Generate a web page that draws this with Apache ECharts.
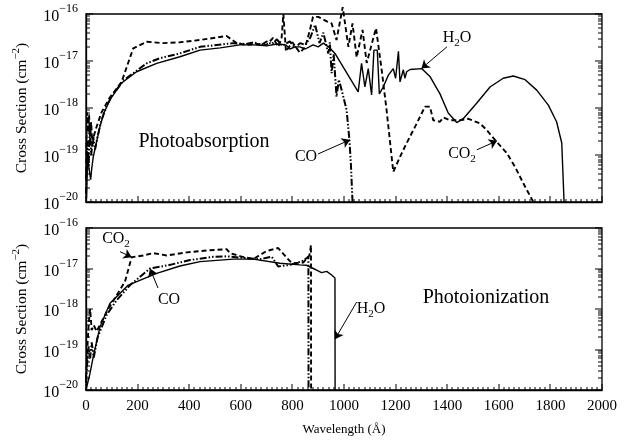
<!DOCTYPE html>
<html><head><meta charset="utf-8">
<script src="https://cdn.jsdelivr.net/npm/echarts@6/dist/echarts.min.js"></script>
<style>html,body{margin:0;padding:0;background:#fff}#c{width:632px;height:442px}</style>
</head><body><div id="c"></div><script>
// ---------- DATA (wavelength in Å, cross section in cm^2) ----------
const absH2O = [[2,1.2e-20],[6,9e-20],[12,5e-20],[18,3.0e-20],[22,5e-20],[28,9e-20],[40,1.8e-19],[54,4.0e-19],[70,8e-19],[93,1.5e-18],[138,3.4e-18],[196,5.9e-18],[274,8.9e-18],[364,1.23e-17],[442,1.7e-17],[520,1.9e-17],[597,2.2e-17],[650,2.2e-17],[700,2.1e-17],[740,2.3e-17],[775,2.2e-17],[791,1.8e-17],[810,2.0e-17],[829,2.0e-17],[850,1.8e-17],[880,2.2e-17],[900,2.0e-17],[920,2.4e-17],[945,1.9e-17],[965,1.45e-17],[1055,2.2e-18],[1068,8.9e-18],[1081,2.8e-18],[1094,6.9e-18],[1107,1.9e-18],[1116,1.7e-17],[1129,1.7e-17],[1137,2.0e-18],[1152,2.8e-18],[1172,5.0e-18],[1191,6.9e-18],[1200,4.3e-18],[1211,1.6e-17],[1217,3.6e-18],[1230,6.5e-18],[1236,4.3e-18],[1243,5.9e-18],[1256,6.6e-18],[1301,6.9e-18],[1333,4.7e-18],[1372,2.0e-18],[1404,7.8e-19],[1437,4.9e-19],[1463,6.0e-19],[1514,1.26e-18],[1566,2.8e-18],[1617,4.3e-18],[1656,4.8e-18],[1702,4.0e-18],[1747,2.4e-18],[1792,1.15e-18],[1824,5.1e-19],[1844,1.8e-19],[1853,1.0e-20]];
const absCO2 = [[0,3e-20],[4,8e-19],[8,3e-19],[12,7e-19],[16,2e-19],[20,5e-19],[25,1.5e-19],[30,2.5e-19],[41,4.0e-19],[60,8e-19],[90,1.6e-18],[138,3.6e-18],[183,1.86e-17],[235,2.57e-17],[299,2.4e-17],[364,2.5e-17],[442,2.8e-17],[545,3.4e-17],[584,2.4e-17],[620,2.2e-17],[660,2.3e-17],[700,2.2e-17],[725,3.1e-17],[745,2.0e-17],[758,3e-17],[765,1.0e-16],[775,1.6e-17],[800,2.5e-17],[829,1.5e-17],[850,2.0e-17],[868,4.6e-17],[880,8.7e-17],[900,8.7e-17],[935,6.9e-17],[952,6.3e-17],[971,2.8e-17],[995,1.4e-16],[1017,2.0e-17],[1033,6.3e-17],[1049,1.2e-17],[1072,4.6e-17],[1088,9.1e-18],[1124,5.0e-17],[1146,6.5e-18],[1165,9.1e-19],[1191,4.4e-20],[1217,9.1e-20],[1243,1.8e-19],[1282,4.7e-19],[1314,1.07e-18],[1333,1.07e-18],[1346,5.5e-19],[1372,5.1e-19],[1385,6.3e-19],[1411,5.5e-19],[1450,5.5e-19],[1482,5.9e-19],[1527,4.7e-19],[1553,3.4e-19],[1592,1.9e-19],[1631,1.1e-19],[1663,5.6e-20],[1695,2.5e-20],[1734,1.0e-20]];
const absCO = [[0,1.5e-20],[5,2e-19],[10,6e-20],[15,4e-19],[20,1e-19],[28,2.5e-19],[35,1.3e-19],[45,2.5e-19],[60,5.5e-19],[80,1.1e-18],[100,1.8e-18],[146,3.9e-18],[235,8.9e-18],[287,1.15e-17],[364,1.45e-17],[442,2.0e-17],[571,2.4e-17],[620,2.3e-17],[650,2.5e-17],[680,2.2e-17],[700,2.6e-17],[720,2.3e-17],[740,2.9e-17],[760,2.1e-17],[790,2.6e-17],[810,1.9e-17],[830,2.4e-17],[850,2.2e-17],[870,3.2e-17],[888,5.9e-17],[905,2.4e-17],[920,4.0e-17],[939,1.45e-17],[945,2.5e-17],[952,5.5e-18],[960,1.4e-17],[971,1.74e-18],[980,4e-18],[991,2.4e-18],[1010,9.1e-19],[1021,2.1e-19],[1027,6e-20],[1033,1.0e-20]];

const ionH2O = [[0,1.0e-20],[15,2.5e-20],[28,6.6e-20],[54,3.6e-19],[93,1.38e-18],[164,3.9e-18],[274,7.6e-18],[364,1.15e-17],[442,1.48e-17],[571,1.7e-17],[648,1.7e-17],[752,1.35e-17],[829,1.23e-17],[855,1.2e-17],[881,1.0e-17],[894,9.1e-18],[913,7.9e-18],[933,8.5e-18],[952,6.9e-18],[965,5.8e-18],[965.5,1.0e-20]];
const ionCO2 = [[0,2e-20],[5,1e-19],[10,4e-19],[16,1.0e-18],[22,3e-19],[30,4e-19],[41,2.8e-19],[80,8.5e-19],[119,2.2e-18],[151,4.7e-18],[177,1.9e-17],[222,2.1e-17],[261,2.4e-17],[313,2.1e-17],[390,2.5e-17],[470,2.8e-17],[545,3.0e-17],[558,2.4e-17],[600,2.0e-17],[648,1.7e-17],[700,2.7e-17],[745,3.2e-17],[791,1.5e-17],[804,1.35e-17],[842,1.4e-17],[866,2.1e-17],[872,3.8e-17],[872.5,1.0e-20]];
const ionCO = [[0,1.5e-20],[5,5e-20],[10,1.2e-19],[16,6e-20],[22,1.5e-19],[30,6.3e-20],[45,2e-19],[80,7.1e-19],[119,1.66e-18],[171,3.9e-18],[248,1.0e-17],[326,1.23e-17],[403,1.62e-17],[493,1.95e-17],[545,2.0e-17],[623,1.8e-17],[674,1.7e-17],[720,1.95e-17],[745,1.12e-17],[791,1.23e-17],[842,1.55e-17],[862,1.95e-17],[862.5,1.0e-20]];

const xTickLabels = [0,200,400,600,800,1000,1200,1400,1600,1800,2000];
const xMinorStep = 20;
const yDecades = [1e-20,1e-19,1e-18,1e-17,1e-16];
const yMinorFactors = [2,3,4,5,6,7,8,9];

// ---------- CHART ----------
const FONT = 'Liberation Serif, Times New Roman, serif';
const mctx = document.createElement('canvas').getContext('2d');
function tw(text, size){ mctx.font = size + "px 'Liberation Serif', serif"; return mctx.measureText(text).width; }

const XMIN = xTickLabels[0], XMAX = xTickLabels[xTickLabels.length-1];
const YMIN = yDecades[0], YMAX = yDecades[yDecades.length-1];
const yTickVals = [];
yDecades.forEach((d,i)=>{ yTickVals.push(d); if(i<yDecades.length-1) yMinorFactors.forEach(f=>yTickVals.push(f*d)); });
const xTickVals = [];
for(let v=XMIN; v<=XMAX; v+=xMinorStep) xTickVals.push(v);

const chart = echarts.init(document.getElementById('c'), null, {renderer:'canvas'});

function xAxis(gi, showLabels){
  return {type:'value', gridIndex:gi, min:XMIN, max:XMAX, interval:200,
    axisLine:{show:true, lineStyle:{color:'#000', width:1.3}},
    axisTick:{show:false}, minorTick:{show:false},
    splitLine:{show:false}, minorSplitLine:{show:false},
    axisLabel:{show:showLabels, color:'#000', fontFamily:FONT, fontSize:15, margin:9, formatter:v=>String(v)},
    name: showLabels ? 'Wavelength (Å)' : '', nameLocation:'middle', nameGap:33,
    nameTextStyle:{color:'#000', fontFamily:FONT, fontSize:13}};
}
function yAxis(gi){
  return {type:'log', logBase:10, gridIndex:gi, min:YMIN, max:YMAX,
    axisLine:{show:true, lineStyle:{color:'#000', width:1.3}}, axisTick:{show:false}, splitLine:{show:false},
    axisLabel:{show:false}};
}
function tickRect(x, y, w, h){
  return {type:'rect', shape:{x, y, width:w, height:h}, style:{fill:'#000'}};
}
// y ticks (both sides) and y tick labels, placed through the log axis
function yTickSeries(gi){
  return {type:'custom', coordinateSystem:'cartesian2d', xAxisIndex:gi, yAxisIndex:gi, clip:false, z:5, animation:false, silent:true,
    data: yTickVals.map(v=>[XMIN,v]),
    renderItem(params, api){
      const v = api.value(1);
      const l = api.coord([XMIN, v]);
      const r = api.coord([XMAX, v]);
      const lg = Math.log10(v);
      const major = Math.abs(lg - Math.round(lg)) < 1e-6;
      const len = major ? 7 : 4;
      const y = Math.round(l[1]) - 0.5;
      const children = [tickRect(l[0], y, len, 1), tickRect(r[0]-len, y, len, 1)];
      if(major){
        const exp = '−' + String(-Math.round(lg));
        const ew = tw(exp, 12);
        children.push({type:'text', x:l[0]-8-ew, y:l[1]+3, style:{text:'10', fontFamily:FONT, fontSize:16, fill:'#000', align:'right', verticalAlign:'middle'}});
        children.push({type:'text', x:l[0]-8, y:l[1]-5, style:{text:exp, fontFamily:FONT, fontSize:12, fill:'#000', align:'right', verticalAlign:'middle'}});
      }
      return {type:'group', children};
    }};
}
// x ticks on the bottom edge, placed through the value axis
function xTickSeries(gi){
  return {type:'custom', coordinateSystem:'cartesian2d', xAxisIndex:gi, yAxisIndex:gi, clip:false, z:5, animation:false, silent:true,
    data: xTickVals.map(v=>[v,YMIN]),
    renderItem(params, api){
      const v = api.value(0);
      const p = api.coord([v, YMIN]);
      const len = (v % 200 === 0) ? 6 : 3;
      return tickRect(Math.round(p[0]) - 0.5, p[1]-len, 1, len);
    }};
}
const styles = {
  H2O:{type:'solid', width:1.4},
  CO2:{type:[5,3], width:1.9},
  CO:{type:[7,2,1.5,2,1.5,2], width:2}
};
function arrow(from, to){ return [{coord:from},{coord:to}]; }
function lineSeries(gi, data, key, arrows, clip){
  const s = {type:'line', xAxisIndex:gi, yAxisIndex:gi, data, showSymbol:false, symbol:'none', animation:false,
    clip: clip !== false, lineStyle:Object.assign({color:'#000'}, styles[key]), z:3};
  if(arrows){
    s.markLine = {animation:false, symbol:['none','arrow'], symbolSize:8, label:{show:false},
      lineStyle:{type:'solid', color:'#000', width:1}, data:arrows};
  }
  return s;
}

// composite text (sub/superscripts)
function runs(items, x, y, rotation){
  const W = items.reduce((a,it)=>a+tw(it.t, it.s), 0);
  let off = -W/2;
  const children = items.map(it=>{
    const el = {type:'text', x:off, y:(it.dy||0), style:{text:it.t, fontFamily:FONT, fontSize:it.s, fill:'#000', align:'left', verticalAlign:'middle'}};
    off += tw(it.t, it.s);
    return el;
  });
  return {type:'group', x, y, rotation:rotation||0, z:10, children};
}
const H2O = [{t:'H', s:16},{t:'2', s:11, dy:5},{t:'O', s:16}];
const CO2 = [{t:'CO', s:16},{t:'2', s:11, dy:5}];
const CO = [{t:'CO', s:16}];
const yName = [{t:'Cross Section (cm', s:15.5},{t:'−2', s:11, dy:-6},{t:')', s:15.5}];

chart.setOption({
  backgroundColor:'#fff',
  animation:false,
  grid:[
    {left:86, top:14, width:516, height:188, outerBoundsMode:'none', show:true, borderColor:'#000', borderWidth:1.3, backgroundColor:'transparent'},
    {left:86, top:228, width:516, height:162, outerBoundsMode:'none', show:true, borderColor:'#000', borderWidth:1.3, backgroundColor:'transparent'}
  ],
  xAxis:[xAxis(0,false), xAxis(1,true)],
  yAxis:[yAxis(0), yAxis(1)],
  series:[
    yTickSeries(0), yTickSeries(1), xTickSeries(0), xTickSeries(1),
    lineSeries(0, absH2O, 'H2O', [arrow([1399, 2.0e-17],[1300, 6.9e-18])]),
    lineSeries(0, absCO2, 'CO2', [arrow([1515, 1.29e-19],[1593, 2.0e-19])], false),
    lineSeries(0, absCO, 'CO', [arrow([899, 1.05e-19],[1023, 2.1e-19])]),
    lineSeries(1, ionH2O, 'H2O', [arrow([1049, 1.48e-18],[965, 1.8e-19])]),
    lineSeries(1, ionCO2, 'CO2', [arrow([132, 2.6e-17],[177, 1.9e-17])]),
    lineSeries(1, ionCO, 'CO', [arrow([279, 3.3e-18],[248, 1.0e-17])])
  ],
  graphic:[
    runs([{t:'Photoabsorption', s:20}], 204, 142),
    runs(H2O, 457, 38),
    runs(CO, 306, 157),
    runs(CO2, 462, 154),
    runs(CO2, 116, 239),
    runs(CO, 169, 300),
    runs([{t:'Photoionization', s:20}], 486, 298),
    runs(H2O, 371, 309),
    runs(yName, 22, 108, Math.PI/2),
    runs(yName, 22, 309, Math.PI/2)
  ]
});
</script></body></html>
